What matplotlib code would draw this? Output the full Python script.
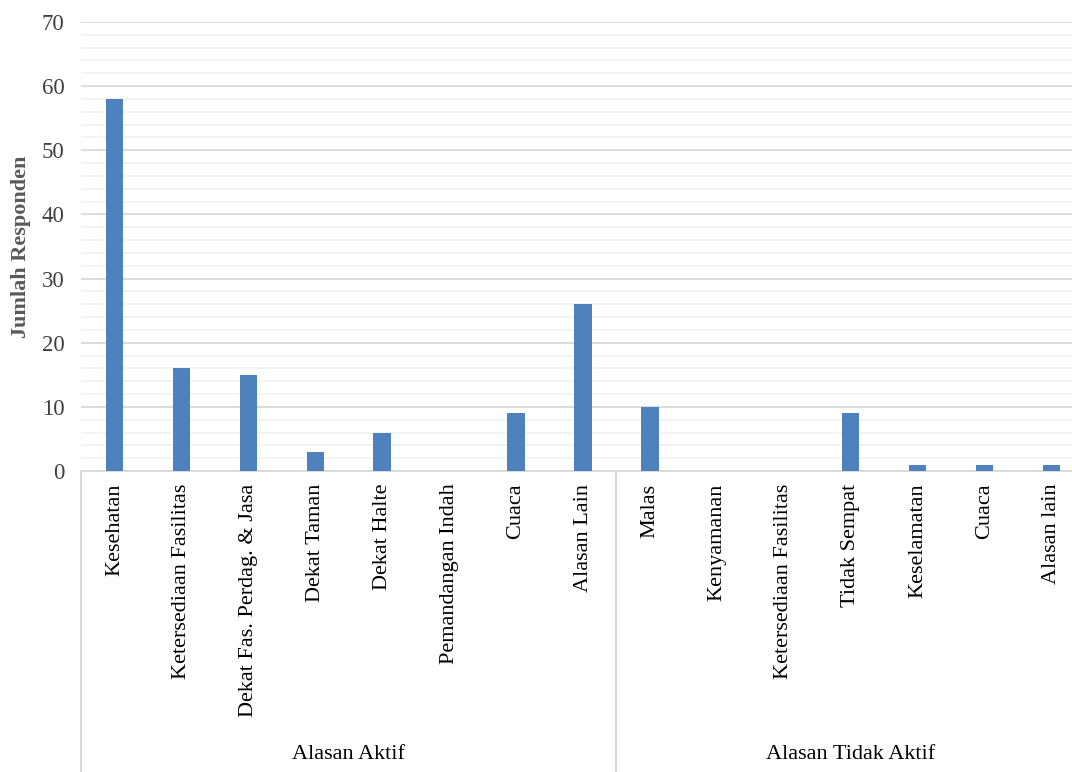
import matplotlib
matplotlib.use("Agg")
import matplotlib.pyplot as plt
from matplotlib.ticker import MultipleLocator
from matplotlib.transforms import blended_transform_factory

# ---- data ----
groups = ["Alasan Aktif", "Alasan Tidak Aktif"]
cats_aktif = ["Kesehatan", "Ketersediaan Fasilitas", "Dekat Fas. Perdag. & Jasa",
              "Dekat Taman", "Dekat Halte", "Pemandangan Indah", "Cuaca", "Alasan Lain"]
vals_aktif = [58, 16, 15, 3, 6, 0, 9, 26]
cats_tidak = ["Malas", "Kenyamanan", "Ketersediaan Fasilitas", "Tidak Sempat",
              "Keselamatan", "Cuaca", "Alasan lain"]
vals_tidak = [10, 0, 0, 9, 1, 1, 1]
y_label = "Jumlah Responden"
y_ticks = [0, 10, 20, 30, 40, 50, 60, 70]

categories = cats_aktif + cats_tidak
values = vals_aktif + vals_tidak
group_sizes = [len(cats_aktif), len(cats_tidak)]

plt.rcParams['font.family'] = ['Liberation Serif', 'DejaVu Serif']

W, H = 1072, 772
fig = plt.figure(figsize=(W / 100, H / 100), dpi=100)
ax_left, ax_right = 81, 1085
ax_top, ax_bot = 22, 471
ax_w = ax_right - ax_left
ax = fig.add_axes([ax_left / W, 1 - ax_bot / H, ax_w / W, (ax_bot - ax_top) / H])

x = list(range(len(categories)))
ax.bar(x, values, width=0.26, color='#4f81bd', zorder=3)

ax.set_xlim(-0.5, len(categories) - 0.5)
ax.set_ylim(0, 70)
ax.set_yticks(y_ticks)
ax.yaxis.set_minor_locator(MultipleLocator(2))
ax.grid(axis='y', which='major', color='#d9d9d9', lw=1.3, zorder=1)
ax.grid(axis='y', which='minor', color='#f2f2f2', lw=1.3, zorder=0)
ax.tick_params(axis='y', which='both', length=0, pad=12, labelsize=16.5, labelcolor='#404040')

ax.set_xticks(x)
ax.set_xticklabels(categories, rotation=90, fontsize=16, color='black', va='top', ha='center')
ax.tick_params(axis='x', length=0, pad=9)

for s in ['top', 'right', 'left']:
    ax.spines[s].set_visible(False)
ax.spines['bottom'].set_color('#d9d9d9')
ax.spines['bottom'].set_linewidth(1.3)

ax.set_ylabel(y_label, fontsize=16, fontweight='bold', color='#595959')
ax.yaxis.set_label_coords((31 - ax_left) / ax_w, 0.5)

# multi-level category axis
trans = blended_transform_factory(ax.transData, ax.transAxes)
ax_h = ax_bot - ax_top
line_bottom = -(H - ax_bot) / ax_h
label_y = -(755 - ax_bot) / ax_h
start = 0
bounds = [-0.5]
for g, n in zip(groups, group_sizes):
    end = start + n
    bounds.append(end - 0.5)
    ax.text((start + end - 1) / 2, label_y, g, transform=trans, ha='center', va='center',
            fontsize=16, color='black')
    start = end
for b in bounds:
    ax.plot([b, b], [0, line_bottom], transform=trans, color='#d9d9d9', lw=1.5, clip_on=False)

fig.savefig("out.png", dpi=100)
